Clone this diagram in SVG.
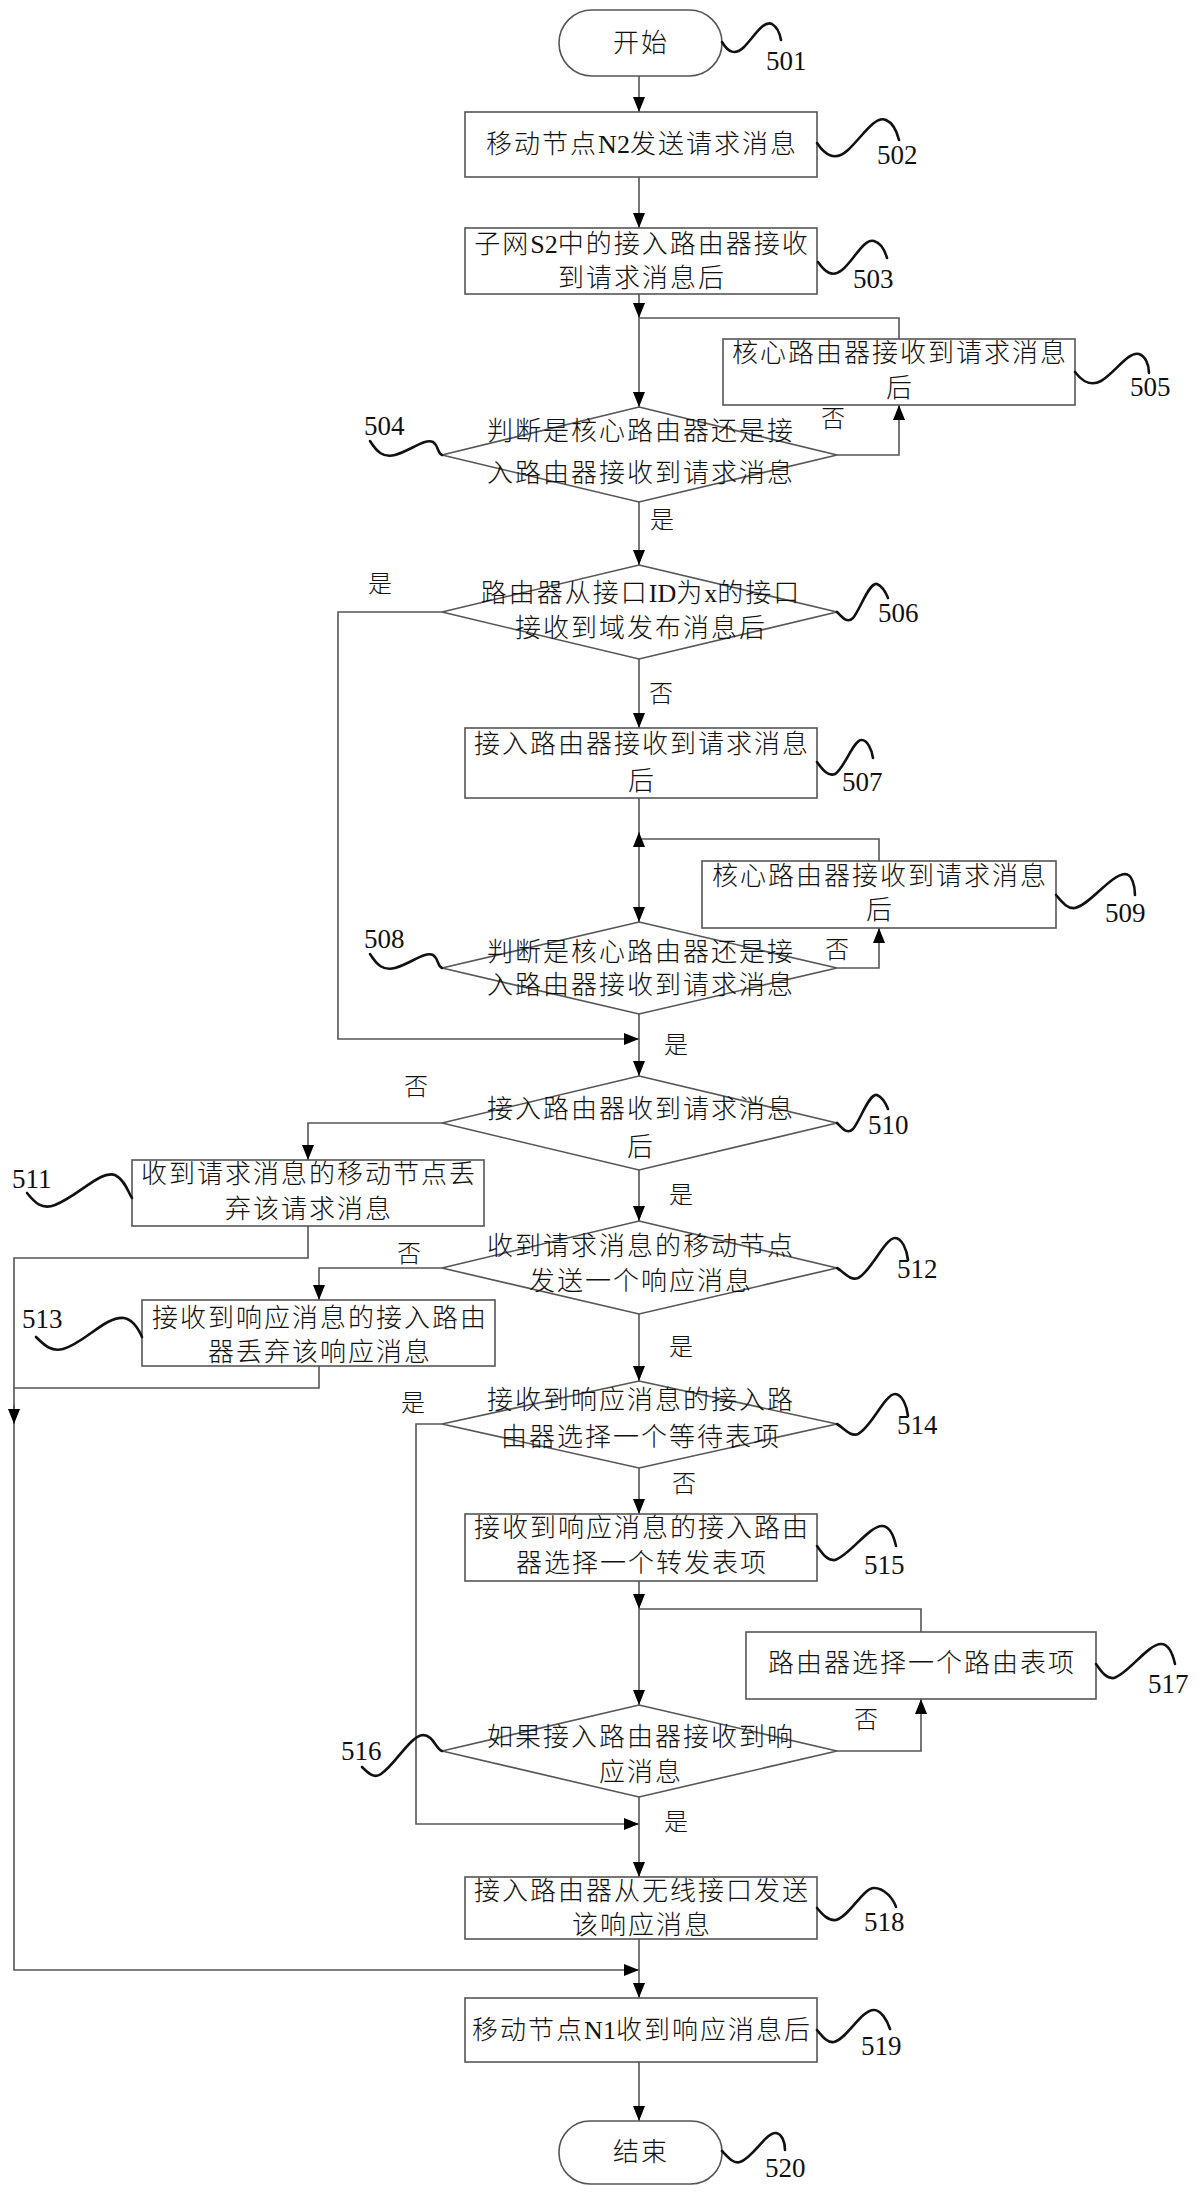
<svg xmlns="http://www.w3.org/2000/svg" width="1200" height="2196" viewBox="0 0 1200 2196">
<style>
.bx{fill:#fff;stroke:#555;stroke-width:1.6}
.c{fill:none;stroke:#555;stroke-width:1.6}
.sq{fill:none;stroke:#111;stroke-width:2.6;stroke-linecap:round}
.t{font-family:"Liberation Serif","Noto Sans CJK SC",serif;font-size:26px;font-weight:300;letter-spacing:2px;text-anchor:middle;fill:#111}
.l{font-family:"Liberation Serif",serif;font-weight:400;letter-spacing:0}
.y{font-family:"Noto Sans CJK SC",serif;font-size:24px;font-weight:300;text-anchor:middle;fill:#111}
.n{font-family:"Liberation Serif",serif;font-size:27px;fill:#111}
</style>
<defs>
<marker id="a" viewBox="0 0 15 12" refX="15" refY="6" markerWidth="15" markerHeight="12" markerUnits="userSpaceOnUse" orient="auto"><path d="M0,0 L15,6 L0,12z" fill="#000"/></marker>
</defs>
<rect width="1200" height="2196" fill="#fff"/>

<g id="connectors">
<path class="c" d="M639,76 V112" marker-end="url(#a)"/>
<path class="c" d="M639,177 V228" marker-end="url(#a)"/>
<path class="c" d="M639,294 V318" marker-end="url(#a)"/>
<path class="c" d="M639,318 V407" marker-end="url(#a)"/>
<path class="c" d="M837,455 H899 V405" marker-end="url(#a)"/>
<path class="c" d="M899,339 V318 H639"/>
<path class="c" d="M639,502 V565" marker-end="url(#a)"/>
<path class="c" d="M442,612 H338 V1039 H639" marker-end="url(#a)"/>
<path class="c" d="M639,659 V728" marker-end="url(#a)"/>
<path class="c" d="M639,798 V922" marker-end="url(#a)"/>
<path class="c" d="M837,968 H879 V928" marker-end="url(#a)"/>
<path class="c" d="M879,861 V839 H639"/>
<path class="c" d="M639,847 V832" marker-end="url(#a)"/>
<path class="c" d="M639,1014 V1076" marker-end="url(#a)"/>
<path class="c" d="M442,1123 H308 V1160" marker-end="url(#a)"/>
<path class="c" d="M308,1226 V1258 H14 V1970 H639" marker-end="url(#a)"/>
<path class="c" d="M14,1405 V1424" marker-end="url(#a)"/>
<path class="c" d="M639,1170 V1221" marker-end="url(#a)"/>
<path class="c" d="M442,1268 H319 V1300" marker-end="url(#a)"/>
<path class="c" d="M319,1366 V1388 H14"/>
<path class="c" d="M639,1314 V1381" marker-end="url(#a)"/>
<path class="c" d="M442,1424 H416 V1824 H639" marker-end="url(#a)"/>
<path class="c" d="M639,1468 V1514" marker-end="url(#a)"/>
<path class="c" d="M639,1581 V1609" marker-end="url(#a)"/>
<path class="c" d="M639,1609 V1705" marker-end="url(#a)"/>
<path class="c" d="M837,1751 H921 V1699" marker-end="url(#a)"/>
<path class="c" d="M921,1632 V1609 H639"/>
<path class="c" d="M639,1797 V1877" marker-end="url(#a)"/>
<path class="c" d="M639,1939 V1998" marker-end="url(#a)"/>
<path class="c" d="M639,2062 V2121" marker-end="url(#a)"/>
<text class="y" x="833" y="427">否</text>
<text class="y" x="662" y="528">是</text>
<text class="y" x="380" y="592">是</text>
<text class="y" x="661" y="702">否</text>
<text class="y" x="837" y="958">否</text>
<text class="y" x="676" y="1053">是</text>
<text class="y" x="416" y="1095">否</text>
<text class="y" x="681" y="1203">是</text>
<text class="y" x="409" y="1262">否</text>
<text class="y" x="681" y="1355">是</text>
<text class="y" x="413" y="1411">是</text>
<text class="y" x="684" y="1492">否</text>
<text class="y" x="866" y="1728">否</text>
<text class="y" x="676" y="1830">是</text>
</g>

<g id="n501">
<rect class="bx" x="559" y="10" width="163" height="66" rx="33"/>
<text class="t" x="641" y="52">开始</text>
<path class="sq" d="M722,42 c6,10 13,14 22,5 c10,-10 19,-27 28,-23 c5,3 8,10 9,16"/>
<text class="n" x="766" y="70">501</text>
</g>

<g id="n502">
<rect class="bx" x="465" y="112" width="352" height="65"/>
<text class="t" x="642" y="153">移动节点<tspan class="l">N2</tspan>发送请求消息</text>
<path class="sq" d="M817,143 c8,12 18,19 31,7 c14,-13 27,-35 38,-30 c7,3 11,12 13,20"/>
<text class="n" x="877" y="164">502</text>
</g>

<g id="n503">
<rect class="bx" x="465" y="228" width="352" height="66"/>
<text class="t" x="642" y="253">子网<tspan class="l">S2</tspan>中的接入路由器接收</text>
<text class="t" x="642" y="287">到请求消息后</text>
<path class="sq" d="M818,262 c7,10 14,16 24,8 c12,-10 22,-32 32,-29 c7,2 11,10 13,17"/>
<text class="n" x="853" y="288">503</text>
</g>

<g id="n504">
<polygon class="bx" points="639,407 837,455 639,502 442,455"/>
<text class="t" x="641" y="440">判断是核心路由器还是接</text>
<text class="t" x="641" y="482">入路由器接收到请求消息</text>
<path class="sq" d="M370,441 C377,452 383,458 395,455 C410,451 425,438 433,442 C439,446 437,453 442,455"/>
<text class="n" x="364" y="435">504</text>
</g>

<g id="n505">
<rect class="bx" x="723" y="339" width="352" height="66"/>
<text class="t" x="900" y="362">核心路由器接收到请求消息</text>
<text class="t" x="900" y="397">后</text>
<path class="sq" d="M1075,372 c7,9 15,15 26,9 c14,-8 27,-30 38,-27 c6,2 10,10 10,19"/>
<text class="n" x="1130" y="396">505</text>
</g>

<g id="n506">
<polygon class="bx" points="639,565 837,612 639,659 442,612"/>
<text class="t" x="641" y="602">路由器从接口<tspan class="l">ID</tspan>为<tspan class="l">x</tspan>的接口</text>
<text class="t" x="641" y="637">接收到域发布消息后</text>
<path class="sq" d="M837,612 c5,5 10,12 16,6 c7,-8 16,-36 24,-34 c5,2 9,9 11,14"/>
<text class="n" x="878" y="622">506</text>
</g>

<g id="n507">
<rect class="bx" x="465" y="728" width="352" height="70"/>
<text class="t" x="642" y="753">接入路由器接收到请求消息</text>
<text class="t" x="642" y="790">后</text>
<path class="sq" d="M817,762 c5,7 11,15 18,12 c9,-5 18,-33 26,-34 c6,-1 11,10 12,18"/>
<text class="n" x="842" y="791">507</text>
</g>

<g id="n508">
<polygon class="bx" points="639,922 837,968 639,1014 442,968"/>
<text class="t" x="641" y="961">判断是核心路由器还是接</text>
<text class="t" x="641" y="994">入路由器接收到请求消息</text>
<path class="sq" d="M370,954 C377,965 383,971 395,968 C410,964 425,951 433,955 C439,959 437,966 442,968"/>
<text class="n" x="364" y="948">508</text>
</g>

<g id="n509">
<rect class="bx" x="702" y="861" width="354" height="67"/>
<text class="t" x="880" y="885">核心路由器接收到请求消息</text>
<text class="t" x="880" y="919">后</text>
<path class="sq" d="M1056,895 c6,7 11,14 19,13 c15,-3 35,-33 50,-34 c7,0 10,12 10,21"/>
<text class="n" x="1105" y="922">509</text>
</g>

<g id="n510">
<polygon class="bx" points="639,1076 837,1123 639,1170 442,1123"/>
<text class="t" x="641" y="1118">接入路由器收到请求消息</text>
<text class="t" x="641" y="1156">后</text>
<path class="sq" d="M837,1123 c5,5 10,12 16,6 c7,-8 16,-36 24,-34 c5,2 9,9 11,14"/>
<text class="n" x="868" y="1134">510</text>
</g>

<g id="n511">
<rect class="bx" x="132" y="1160" width="352" height="66"/>
<text class="t" x="309" y="1183">收到请求消息的移动节点丢</text>
<text class="t" x="309" y="1218">弃该请求消息</text>
<path class="sq" d="M27,1193 C35,1203 42,1210 55,1205 C80,1195 100,1170 115,1175 C125,1180 128,1192 132,1198"/>
<text class="n" x="12" y="1188">511</text>
</g>

<g id="n512">
<polygon class="bx" points="639,1221 837,1268 639,1314 442,1268"/>
<text class="t" x="641" y="1255">收到请求消息的移动节点</text>
<text class="t" x="641" y="1290">发送一个响应消息</text>
<path class="sq" d="M837,1268 c7,4 13,13 21,10 c13,-6 27,-40 37,-40 c7,0 12,12 13,22"/>
<text class="n" x="897" y="1278">512</text>
</g>

<g id="n513">
<rect class="bx" x="142" y="1300" width="353" height="66"/>
<text class="t" x="320" y="1327">接收到响应消息的接入路由</text>
<text class="t" x="320" y="1361">器丢弃该响应消息</text>
<path class="sq" d="M36,1337 C45,1346 52,1352 63,1349 C85,1343 105,1316 124,1318 C134,1320 139,1330 142,1337"/>
<text class="n" x="22" y="1328">513</text>
</g>

<g id="n514">
<polygon class="bx" points="639,1381 837,1424 639,1468 442,1424"/>
<text class="t" x="641" y="1409">接收到响应消息的接入路</text>
<text class="t" x="641" y="1446">由器选择一个等待表项</text>
<path class="sq" d="M837,1424 c7,4 13,13 21,10 c13,-6 27,-40 37,-40 c7,0 12,12 13,22"/>
<text class="n" x="897" y="1434">514</text>
</g>

<g id="n515">
<rect class="bx" x="465" y="1514" width="352" height="67"/>
<text class="t" x="642" y="1537">接收到响应消息的接入路由</text>
<text class="t" x="642" y="1572">器选择一个转发表项</text>
<path class="sq" d="M817,1546 c5,7 10,15 18,14 c14,-4 34,-34 47,-34 c8,0 12,11 14,20"/>
<text class="n" x="864" y="1574">515</text>
</g>

<g id="n516">
<polygon class="bx" points="639,1705 837,1751 639,1797 442,1751"/>
<text class="t" x="641" y="1746">如果接入路由器接收到响</text>
<text class="t" x="641" y="1781">应消息</text>
<path class="sq" d="M362,1767 C368,1773 374,1779 381,1774 C395,1765 410,1736 423,1735 C433,1735 436,1749 442,1751"/>
<text class="n" x="341" y="1760">516</text>
</g>

<g id="n517">
<rect class="bx" x="746" y="1632" width="350" height="67"/>
<text class="t" x="922" y="1672">路由器选择一个路由表项</text>
<path class="sq" d="M1096,1664 c5,7 10,15 18,14 c14,-4 34,-34 47,-34 c8,0 12,11 14,20"/>
<text class="n" x="1148" y="1693">517</text>
</g>

<g id="n518">
<rect class="bx" x="465" y="1877" width="352" height="62"/>
<text class="t" x="642" y="1900">接入路由器从无线接口发送</text>
<text class="t" x="642" y="1934">该响应消息</text>
<path class="sq" d="M817,1908 c5,6 11,13 19,12 c13,-3 27,-32 38,-32 c10,0 19,10 22,19"/>
<text class="n" x="864" y="1931">518</text>
</g>

<g id="n519">
<rect class="bx" x="465" y="1998" width="352" height="64"/>
<text class="t" x="642" y="2039">移动节点<tspan class="l">N1</tspan>收到响应消息后</text>
<path class="sq" d="M817,2030 c5,6 10,13 17,12 c13,-3 27,-32 40,-32 c7,0 13,10 16,19"/>
<text class="n" x="861" y="2055">519</text>
</g>

<g id="n520">
<rect class="bx" x="559" y="2121" width="163" height="63" rx="31"/>
<text class="t" x="641" y="2161">结束</text>
<path class="sq" d="M722,2151 c6,6 11,13 18,11 c13,-4 26,-30 36,-29 c6,1 9,9 9,17"/>
<text class="n" x="765" y="2177">520</text>
</g>
</svg>
